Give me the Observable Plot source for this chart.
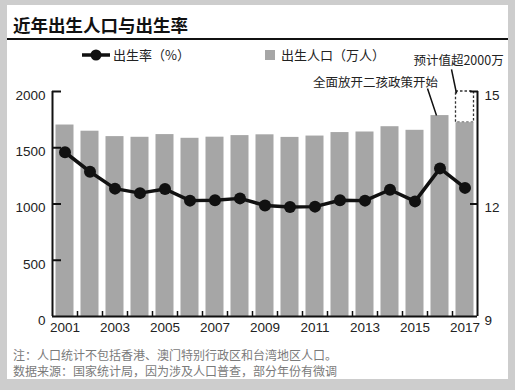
<!DOCTYPE html>
<html><head><meta charset="utf-8">
<script src="https://cdn.jsdelivr.net/npm/d3@7"></script>
<script src="https://cdn.jsdelivr.net/npm/@observablehq/plot@0.6"></script>
<style>
body{margin:0;background:#fff;}
#frame{position:relative;width:515px;height:390px;background:#cdcdcd;overflow:hidden;font-family:"Liberation Sans","Noto Sans CJK SC",sans-serif;}
#panel{position:absolute;left:7px;top:5px;width:501px;height:374px;background:#fff;}
#title{position:absolute;left:13px;top:13px;font-family:"Noto Sans CJK SC",sans-serif;font-size:17.5px;font-weight:bold;line-height:24px;color:#111;white-space:nowrap;}
#rule{position:absolute;left:7px;top:38px;width:501px;height:2px;background:#111;}
.leg{position:absolute;top:46px;font-family:"Noto Sans CJK SC",sans-serif;font-size:13px;line-height:18px;color:#222;white-space:nowrap;}
#chart{position:absolute;left:0;top:0;}
.note{position:absolute;left:13px;font-family:"Noto Sans CJK SC",sans-serif;font-size:12px;color:#7a7a7a;line-height:16px;white-space:nowrap;}
</style>
</head><body>
<div id="frame">
  <div id="panel"></div>
  <div id="title">近年出生人口与出生率</div>
  <div id="rule"></div>
  <svg style="position:absolute;left:80px;top:49px" width="32" height="12"><line x1="2" y1="6" x2="30" y2="6" stroke="#111" stroke-width="3.5"/><circle cx="16" cy="6" r="5.5" fill="#111"/></svg>
  <div class="leg" style="left:113px">出生率（%）</div>
  <div style="position:absolute;left:265px;top:50px;width:10px;height:10px;background:#a6a6a6"></div>
  <div class="leg" style="left:281px">出生人口（万人）</div>
  <div id="chart"></div>
  <div class="note" style="top:347px">注：人口统计不包括香港、澳门特别行政区和台湾地区人口。</div>
  <div class="note" style="top:363px">数据来源：国家统计局，因为涉及人口普查，部分年份有微调</div>
</div>
<script>
const years = [2001,2002,2003,2004,2005,2006,2007,2008,2009,2010,2011,2012,2013,2014,2015,2016,2017];
const births = [1702,1647,1599,1593,1617,1584,1594,1608,1615,1592,1604,1635,1640,1687,1655,1786,1723];
const rates = [13.38,12.86,12.41,12.29,12.40,12.09,12.10,12.15,11.96,11.92,11.93,12.10,12.09,12.38,12.07,12.95,12.43];
const leftTicks = [0,500,1000,1500,2000];
const rightTicks = [9,12,15];
const xLabelYears = [2001,2003,2005,2007,2009,2011,2013,2015,2017];
const projectedYear = 2017;
const projectedValue = 2000;
const annotations = [
  {text:"全面放开二孩政策开始", x:2013.42, y:2080, lx1:2015.5, ly1:2027, lx2:2015.86, ly2:1786},
  {text:"预计值超2000万", x:2016.74, y:2267, lx1:2016.46, ly1:2196, lx2:2016.66, ly2:1982}
];

const xDomain = [years[0]-0.5, years[years.length-1]+0.5];
const yDomain = [0, 2000];
const rateMin = 9, rateMax = 15;
const toY = r => (r - rateMin) / (rateMax - rateMin) * (yDomain[1] - yDomain[0]) + yDomain[0];

const data = years.map((year,i) => ({year, births: births[i], rate: rates[i]}));
const boundaries = years.slice(0,-1).map(y => y + 0.5);
const proj = [{year: projectedYear, lo: births[years.indexOf(projectedYear)], hi: projectedValue}];

const font = '"Liberation Sans","Noto Sans CJK SC",sans-serif';
const tickL = 9, tickR = 8, tickB = 5;

const chart = Plot.plot({
  width: 515, height: 390,
  marginLeft: 52, marginRight: 38, marginTop: 91, marginBottom: 74,
  x: {domain: xDomain},
  y: {domain: yDomain},
  style: {background: "transparent", fontFamily: font, fontSize: "13.5px", color: "#222", overflow: "visible"},
  marks: [
    Plot.rect(proj, {x1: d => d.year - 0.5, x2: d => d.year + 0.5, y1: "lo", y2: "hi", insetLeft: 3.5, insetRight: 3.5, fill: "none", stroke: "#333", strokeWidth: 1.3, strokeDasharray: "2.5,2"}),
    Plot.rectY(data, {x1: d => d.year - 0.5, x2: d => d.year + 0.5, y: "births", insetLeft: 3.5, insetRight: 3.5, fill: "#a6a6a6"}),
    Plot.ruleX([xDomain[0]], {y1: yDomain[0], y2: yDomain[1], stroke: "#111", strokeWidth: 2}),
    Plot.ruleX([xDomain[1]], {y1: yDomain[0], y2: toY(rateMax), stroke: "#111", strokeWidth: 2}),
    Plot.ruleY([yDomain[0]], {x1: xDomain[0], x2: xDomain[1], stroke: "#111", strokeWidth: 2}),
    Plot.axisX(boundaries, {tickSize: tickB, dy: -tickB, tickFormat: () => "", stroke: "#111", strokeWidth: 1.5}),
    Plot.axisX(xLabelYears, {tickSize: 0, tickPadding: 6, tickFormat: d => String(d), fill: "#222"}),
    Plot.axisY(leftTicks.filter(d => d > 0), {anchor: "left", tickSize: tickL, dx: tickL, tickFormat: () => "", stroke: "#111", strokeWidth: 2}),
    Plot.axisY(leftTicks, {anchor: "left", tickSize: 0, tickPadding: 7, dy: 4, tickFormat: d => String(d), fill: "#222"}),
    Plot.axisY(rightTicks.filter(d => d > rateMin).map(toY), {anchor: "right", tickSize: tickR, dx: -tickR, tickFormat: () => "", stroke: "#111", strokeWidth: 2}),
    Plot.axisY(rightTicks.map(toY), {anchor: "right", tickSize: 0, tickPadding: 7, dy: 4, tickFormat: v => String(Math.round(rateMin + v / (yDomain[1]-yDomain[0]) * (rateMax - rateMin))), fill: "#222"}),
    Plot.line(data, {x: "year", y: d => toY(d.rate), stroke: "#111", strokeWidth: 3.5}),
    Plot.dot(data, {x: "year", y: d => toY(d.rate), r: 6, fill: "#111"}),
    Plot.link(annotations, {x1: "lx1", y1: "ly1", x2: "lx2", y2: "ly2", stroke: "#111", strokeWidth: 1.5}),
    Plot.text(annotations, {x: "x", y: "y", text: "text", fontSize: 12.5, fill: "#222", fontFamily: '"Noto Sans CJK SC","Liberation Sans",sans-serif'})
  ]
});
document.getElementById("chart").appendChild(chart);
</script>
</body></html>
